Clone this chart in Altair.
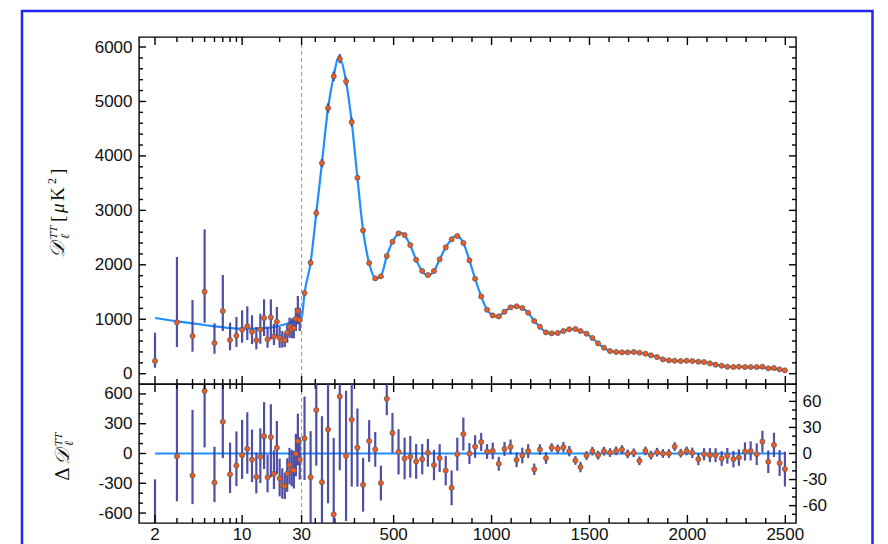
import altair as alt
import pandas as pd

# ---------------- data ----------------
low_ell = list(range(2, 30))
low_D = [233, 944, 692, 1506, 564, 1151, 619, 698, 808, 870, 771, 613, 815, 1023,
         631, 1035, 680, 955, 661, 613, 619, 753, 858, 815, 834, 1010, 1151, 986]
low_err_minus = [123, 454, 288, 569, 197, 367, 189, 208, 239, 251, 226, 165, 264, 331,
                 153, 404, 153, 263, 183, 135, 129, 184, 197, 165, 184, 226, 244, 202]
low_err_plus = [520, 1199, 661, 1145, 361, 662, 318, 343, 356, 368, 302, 245, 287, 343,
                227, 331, 238, 270, 197, 171, 134, 154, 171, 203, 195, 202, 276, 226]
low_resid = [-780, -27, -222, 630, -293, 320, -209, -121, -17, 47, -61, -236, -34, 175,
             -239, 165, -205, 57, -249, -320, -330, -202, -114, -165, -168, -3, 125, -61]

high_ell = [45, 76, 105, 134, 165, 194, 225, 257, 286, 315, 344, 375, 406, 435, 465, 494,
            525, 556, 585, 615, 646, 675, 706, 735, 766, 796, 825, 856, 887, 916, 947, 977,
            1006, 1037, 1066, 1097, 1128, 1157, 1187, 1218, 1247, 1278, 1307, 1338, 1367,
            1397, 1428, 1454, 1485, 1515, 1544, 1574, 1605, 1636, 1666, 1695, 1726, 1755,
            1786, 1814, 1845, 1875, 1906, 1935, 1966, 1996, 2025, 2056, 2085, 2115, 2144,
            2175, 2204, 2235, 2263, 2294, 2323, 2354, 2383, 2413, 2442, 2471, 2498]
high_D = [1481, 2039, 2951, 3869, 4879, 5461, 5785, 5369, 4622, 3600, 2632, 2033, 1751,
          1788, 2161, 2424, 2577, 2547, 2363, 2094, 1886, 1812, 1886, 2100, 2320, 2467,
          2528, 2400, 2081, 1745, 1420, 1175, 1071, 1053, 1139, 1218, 1237, 1206, 1120,
          967, 863, 759, 741, 747, 784, 815, 821, 784, 735, 656, 558, 478, 417, 399, 392,
          392, 399, 386, 368, 337, 306, 263, 245, 239, 233, 239, 233, 221, 214, 190, 166,
          147, 129, 123, 129, 123, 123, 123, 129, 98, 104, 80, 62]
high_err = [48, 53, 64, 76, 85, 88, 85, 75, 77, 45, 31, 24, 20, 20, 19, 23,
            26, 24, 24, 20, 17.5, 16, 17.5, 16, 17, 20, 19, 19, 12, 13, 10.5, 8.5,
            9.5, 8, 8, 8.5, 8.5, 9, 8, 6.6, 6, 6.6, 5, 5, 6,
            6, 5, 6, 5, 5, 5, 5, 5, 5, 5, 5, 5, 5,
            5, 5, 5, 5, 5, 5, 5, 5, 6, 7, 7, 8, 8,
            8.5, 9, 9.5, 9.5, 10.5, 11, 12.5, 12.5, 13, 14, 15, 20]
high_resid = [17.5, -27.3, 50, -33, 27.7, -70, 65.7, -2.7, 39, 6.8, -36, 14.4, 4.7, -34,
              63, 23.7, 1.9, -5.7, -3.8, -9.1, -6.5, 0.8, -13.3, -5.3, -19.7, -39.5, -0.8,
              22.4, 0, 8, 13.3, 2.3, 3, -11.8, 5.3, 7.6, -7.2, -2.3, 2.7, -18.2, 4.6, -5.3,
              6.8, 5.3, 7.2, 2.7, -8, -15.6, -2.3, 2.7, -1.9, 2.7, 1.1, 3, 4.6, -0.4, 0.8,
              -8.4, 3, -1.9, 1.5, 0, 0, 8, 0.4, 3, 0.8, -6.5, -0.8, -1.9, -1.9, -5.7, -2.7,
              -6.5, -4.6, 2.3, 3, -0.8, 13.7, -9.5, 9.9, -11, -17.9]

model_ell = [2, 3, 4, 5, 6, 8, 10, 12, 15, 18, 21, 24, 27, 29, 30, 45, 76, 105, 134, 165,
             194, 220, 257, 286, 315, 344, 375, 410, 435, 465, 494, 538, 585, 615, 646, 675,
             706, 735, 766, 796, 818, 856, 887, 916, 947, 977, 1006, 1030, 1066, 1097, 1125,
             1157, 1187, 1218, 1247, 1278, 1310, 1338, 1367, 1400, 1425, 1454, 1485, 1515,
             1544, 1574, 1605, 1636, 1666, 1695, 1726, 1755, 1786, 1814, 1845, 1875, 1906,
             1966, 2025, 2056, 2085, 2115, 2144, 2175, 2204, 2294, 2354, 2413, 2471, 2500]
model_D = [1023, 962, 925, 894, 870, 839, 827, 827, 839, 858, 894, 937, 980, 1010, 1023,
           1480, 2040, 2950, 3870, 4880, 5470, 5830, 5370, 4620, 3600, 2630, 2030, 1745,
           1790, 2160, 2420, 2585, 2360, 2090, 1880, 1810, 1885, 2100, 2320, 2470, 2535,
           2400, 2080, 1745, 1420, 1175, 1071, 1050, 1139, 1218, 1240, 1206, 1120, 967, 863,
           759, 738, 747, 784, 816, 818, 784, 735, 656, 558, 478, 417, 399, 395, 393, 397,
           386, 368, 337, 306, 263, 245, 233, 233, 221, 214, 190, 166, 147, 129, 123, 118,
           100, 80, 62]

xtick_major = [2, 10, 30, 500, 1000, 1500, 2000, 2500]
xtick_minor = [3, 4, 5, 6, 7, 8, 9, 20, 100, 200, 300, 400, 600, 700, 800, 900, 1100, 1200,
               1300, 1400, 1600, 1700, 1800, 1900, 2100, 2200, 2300, 2400]
xlabel_text = ["2", "10", "30", "500", "1000", "1500", "2000", "2500"]
top_major = [0, 1000, 2000, 3000, 4000, 5000, 6000]
top_minor = [200, 400, 600, 800, 1200, 1400, 1600, 1800, 2200, 2400, 2600, 2800, 3200,
             3400, 3600, 3800, 4200, 4400, 4600, 4800, 5200, 5400, 5600, 5800]
left_major = [-600, -300, 0, 300, 600]
left_minor = [-500, -400, -200, -100, 100, 200, 400, 500]
right_major = [-60, -30, 0, 30, 60]
right_minor = [-70, -50, -40, -20, -10, 10, 20, 40, 50, 70]

# ---------------- styling ----------------
W, HT, HB = 657, 347, 139
ORANGE = "#f25a22"
EDGE = "#5e5e5e"
BAR = "#3c3c9e"
BLUE = "#1e8fff"
FRAME_BLUE = "#2424f4"
LABEL_FONT = "Liberation Sans"
TITLE_FONT = "DejaVu Serif"
PLAIN = "datum.value + ''"


def uexpr(f):
    return (f"datum.{f} < 30 ? log(datum.{f} / 2) / log(15) "
            f": 1 + (datum.{f} - 30) / 2470 * 3.2995")


xscale = alt.Scale(domain=[-0.1091, 4.3724], nice=False, zero=False)
ytop = alt.Scale(domain=[-189, 6184], nice=False, zero=False)
yleft = alt.Scale(domain=[-700, 700], nice=False, zero=False)
yright = alt.Scale(domain=[-80, 80], nice=False, zero=False)

axis_top = alt.Axis(values=top_major, ticks=False, domain=False, grid=False, title=None,
                    labelPadding=7, labelExpr=PLAIN)
axis_left = alt.Axis(values=left_major, ticks=False, domain=False, grid=False, title=None,
                     labelPadding=7, labelExpr=PLAIN)
axis_right = alt.Axis(values=right_major, ticks=False, domain=False, grid=False, title=None,
                      labelPadding=6, orient="right", labelExpr=PLAIN)


def X(field="u"):
    return alt.X(f"{field}:Q", scale=xscale, axis=None)


def one(d=None):
    return alt.Data(values=[d or {"k": 1}])


low = pd.DataFrame({"ell": low_ell, "D": low_D, "em": low_err_minus, "ep": low_err_plus,
                    "r": low_resid})
low["lo"] = low["D"] - low["em"]
low["hi"] = low["D"] + low["ep"]
low["rlo"] = low["r"] - low["em"]
low["rhi"] = low["r"] + low["ep"]
high = pd.DataFrame({"ell": high_ell, "D": high_D, "e": high_err, "r": high_resid})
high["lo"] = high["D"] - high["e"]
high["hi"] = high["D"] + high["e"]
high["rlo"] = high["r"] - high["e"]
high["rhi"] = high["r"] + high["e"]
alld = pd.concat([low[["ell", "D", "lo", "hi"]], high[["ell", "D", "lo", "hi"]]])
model = pd.DataFrame({"ell": model_ell, "D": model_D})
xmaj = pd.DataFrame({"ell": xtick_major})
xmin = pd.DataFrame({"ell": xtick_minor})
xlab = pd.DataFrame({"ell": xtick_major, "t": xlabel_text})


def xticks(df, length, height):
    base = alt.Chart(df).transform_calculate(u=uexpr("ell"))
    top = base.mark_rule(color="black", strokeWidth=1.4).encode(
        x=X(), y=alt.value(0), y2=alt.value(length))
    bot = base.mark_rule(color="black", strokeWidth=1.4).encode(
        x=X(), y=alt.value(height), y2=alt.value(height - length))
    return [top, bot]


def yticks(vals, length, scale, axis, side):
    df = pd.DataFrame({"v": vals})
    if side == "left":
        xx, xx2 = alt.value(0), alt.value(length)
    else:
        xx, xx2 = alt.value(W), alt.value(W - length)
    return alt.Chart(df).mark_rule(color="black", strokeWidth=1.4).encode(
        y=alt.Y("v:Q", scale=scale, axis=axis), x=xx, x2=xx2)


def text(s, x, y, size, italic=True, font=TITLE_FONT):
    kw = dict(angle=270, align="left", baseline="alphabetic", fontSize=size,
              font=font, color="#111")
    if italic:
        kw["fontStyle"] = "italic"
    return alt.Chart(one({"t": s})).mark_text(**kw).encode(
        text="t:N", x=alt.value(x), y=alt.value(y))


def dashed30(height):
    return alt.Chart(one({"ell": 30})).transform_calculate(u=uexpr("ell")).mark_rule(
        color="#9a9a9a", strokeDash=[4, 3], strokeWidth=1).encode(
        x=X(), y=alt.value(0), y2=alt.value(height))


# ---------------- top panel ----------------
border = alt.Chart(one()).mark_rect(fill="transparent", stroke=FRAME_BLUE,
                                    strokeWidth=2.5).encode(
    x=alt.value(-117), x2=alt.value(733.5), y=alt.value(-26), y2=alt.value(512))

model_line = alt.Chart(model).transform_calculate(u=uexpr("ell")).mark_line(
    color=BLUE, strokeWidth=2.2, interpolate="monotone").encode(
    x=X(), y=alt.Y("D:Q", scale=ytop, axis=axis_top))

top_bars = alt.Chart(alld).transform_calculate(u=uexpr("ell")).mark_rule(
    color=BAR, strokeWidth=2.2, opacity=0.9).encode(
    x=X(), y=alt.Y("lo:Q", scale=ytop, axis=axis_top), y2="hi:Q")

top_pts = alt.Chart(alld).transform_calculate(u=uexpr("ell")).mark_circle(
    size=26, fill=ORANGE, stroke=EDGE, strokeWidth=0.8, opacity=1).encode(
    x=X(), y=alt.Y("D:Q", scale=ytop, axis=axis_top))

top_layers = [border, dashed30(HT), model_line, top_bars, top_pts]
top_layers += xticks(xmaj, 8, HT) + xticks(xmin, 5, HT)
top_layers += [yticks(top_major, 7, ytop, axis_top, "left"),
               yticks(top_minor, 4, ytop, axis_top, "left"),
               yticks(top_major, 7, ytop, axis_top, "right"),
               yticks(top_minor, 4, ytop, axis_top, "right")]
top_layers += [text("𝒟", -75, 221, 20), text("TT", -82, 202, 10),
               text("ℓ", -70, 202, 12),
               text("[", -75, 185, 19, italic=False, font="Liberation Serif"),
               text("μ", -75, 176, 19, font="Liberation Serif"),
               text("K", -75, 164, 19, italic=False, font="Liberation Serif"),
               text("2", -83, 147, 12, italic=False, font="Liberation Serif"),
               text("]", -75, 138, 19, italic=False, font="Liberation Serif")]
top = alt.layer(*top_layers).properties(width=W, height=HT)

# ---------------- bottom panel ----------------
zero = alt.Chart(one({"a": 2, "b": 2500, "r": 0})).transform_calculate(
    u=uexpr("a"), u2=uexpr("b")).mark_rule(color=BLUE, strokeWidth=2).encode(
    x=X(), x2="u2:Q", y=alt.Y("r:Q", scale=yleft, axis=axis_left))

low_bars = alt.Chart(low).transform_calculate(u=uexpr("ell")).mark_rule(
    color=BAR, strokeWidth=2.2, opacity=0.9, clip=True).encode(
    x=X(), y=alt.Y("rlo:Q", scale=yleft, axis=axis_left), y2="rhi:Q")
low_pts = alt.Chart(low).transform_calculate(u=uexpr("ell")).mark_circle(
    size=26, fill=ORANGE, stroke=EDGE, strokeWidth=0.8, opacity=1, clip=True).encode(
    x=X(), y=alt.Y("r:Q", scale=yleft, axis=axis_left))

xlabels = alt.Chart(xlab).transform_calculate(u=uexpr("ell")).mark_text(
    baseline="top", fontSize=17, font=LABEL_FONT, color="#111").encode(
    x=X(), y=alt.value(HB + 4), text="t:N")

left_layers = [dashed30(HB), zero, low_bars, low_pts, xlabels]
left_layers += xticks(xmaj, 8, HB) + xticks(xmin, 5, HB)
left_layers += [yticks(left_major, 7, yleft, axis_left, "left"),
                yticks(left_minor, 4, yleft, axis_left, "left")]
left_layers += [text("Δ", -70, 97, 19, italic=False), text("𝒟", -70, 81, 20),
                text("TT", -77, 62, 10), text("ℓ", -66, 62, 12)]
left_part = alt.layer(*left_layers)

high_bars = alt.Chart(high).transform_calculate(u=uexpr("ell")).mark_rule(
    color=BAR, strokeWidth=2.2, opacity=0.9, clip=True).encode(
    x=X(), y=alt.Y("rlo:Q", scale=yright, axis=axis_right), y2="rhi:Q")
high_pts = alt.Chart(high).transform_calculate(u=uexpr("ell")).mark_circle(
    size=26, fill=ORANGE, stroke=EDGE, strokeWidth=0.8, opacity=1, clip=True).encode(
    x=X(), y=alt.Y("r:Q", scale=yright, axis=axis_right))
right_part = alt.layer(high_bars, high_pts,
                       yticks(right_major, 7, yright, axis_right, "right"),
                       yticks(right_minor, 4, yright, axis_right, "right"))

bottom = alt.layer(left_part, right_part).resolve_scale(y="independent").properties(
    width=W, height=HB)

chart = alt.vconcat(top, bottom, spacing=0, bounds="flush").properties(
    padding={"left": 12, "top": 1, "right": 4, "bottom": 0},
    background="white",
).configure_view(stroke="black", strokeWidth=1.4).configure_axis(
    labelFont=LABEL_FONT, labelFontSize=17, labelColor="#111")

chart.save("out.html", embed_options={"renderer": "svg", "actions": False})
